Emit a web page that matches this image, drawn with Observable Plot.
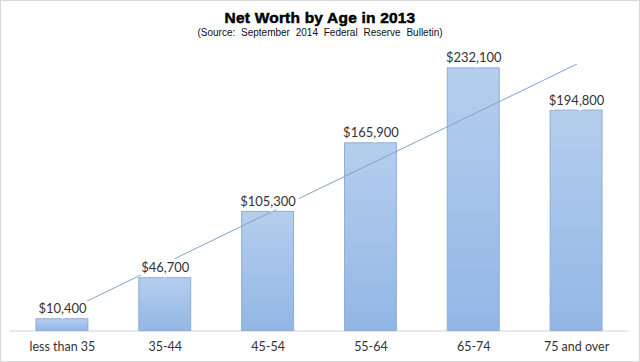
<!DOCTYPE html>
<html><head><meta charset="utf-8">
<script src="https://cdn.jsdelivr.net/npm/d3@7"></script>
<script src="https://cdn.jsdelivr.net/npm/@observablehq/plot@0.6"></script>
<style>
body{margin:0;background:#fff;}
#wrap{position:relative;width:640px;height:362px;box-sizing:border-box;border:1px solid #d6d6d6;overflow:hidden;background:#fff;}
#title{position:absolute;top:8px;left:-1px;width:640px;text-align:center;font:bold 15.5px "Liberation Sans",Arial,sans-serif;color:#000;letter-spacing:0.2px;-webkit-text-stroke:0.5px #000;}
#sub{position:absolute;top:26px;left:-1px;width:640px;text-align:center;font:10px "Liberation Sans",Arial,sans-serif;color:#111;word-spacing:3px;}
#chart{position:absolute;top:39px;left:-1px;}
</style></head>
<body>
<div id="wrap">
  <div id="title">Net Worth by Age in 2013</div>
  <div id="sub">(Source: September 2014 Federal Reserve Bulletin)</div>
  <div id="chart"></div>
</div>
<script>
const ages = ["less than 35", "35-44", "45-54", "55-64", "65-74", "75 and over"];
const netWorth = [10400, 46700, 105300, 165900, 232100, 194800];

const data = ages.map((age, i) => ({age, value: netWorth[i]}));

// linear trendline (least squares over category index)
const n = netWorth.length;
const xs = d3.range(n);
const mx = d3.mean(xs), my = d3.mean(netWorth);
const slope = d3.sum(xs, i => (i - mx) * (netWorth[i] - my)) / d3.sum(xs, i => (i - mx) ** 2);
const icpt = my - slope * mx;
const trend = [0, n - 1].map(i => ({age: ages[i], value: icpt + slope * i}));

const fmt = d3.format(",");

const svg = Plot.plot({
  width: 640,
  height: 322,
  marginLeft: 10,
  marginRight: 11,
  marginTop: 19,
  marginBottom: 31,
  style: {fontFamily: "Lato, sans-serif", fontSize: "12.5px", color: "#333", background: "transparent"},
  x: {domain: ages, paddingInner: 0.5, paddingOuter: 0.25, tickSize: 0, tickPadding: 11, label: null},
  y: {domain: [0, 240000], axis: null},
  marks: [
    Plot.ruleY([0], {stroke: "#d4d4d4"}),
    Plot.barY(data, {x: "age", y: "value", fill: "url(#barGrad)", stroke: "#8eacd6", strokeWidth: 1}),
    Plot.line(trend, {x: "age", y: "value", stroke: "#7fa3cc", strokeWidth: 1}),
    Plot.text(data, {x: "age", y: "value", text: d => "$" + fmt(d.value), dy: -6, lineAnchor: "bottom",
      fill: "#333", stroke: "white", strokeWidth: 7, fontSize: 13, fontFamily: "Lato, sans-serif"})
  ]
});

const defs = d3.select(svg).insert("defs", ":first-child");
const g = defs.append("linearGradient").attr("id", "barGrad")
  .attr("x1", 0).attr("y1", 0).attr("x2", 0).attr("y2", 1);
g.append("stop").attr("offset", "0%").attr("stop-color", "#b5ceed");
g.append("stop").attr("offset", "100%").attr("stop-color", "#92b6e5");

document.getElementById("chart").appendChild(svg);
</script>
</body></html>
